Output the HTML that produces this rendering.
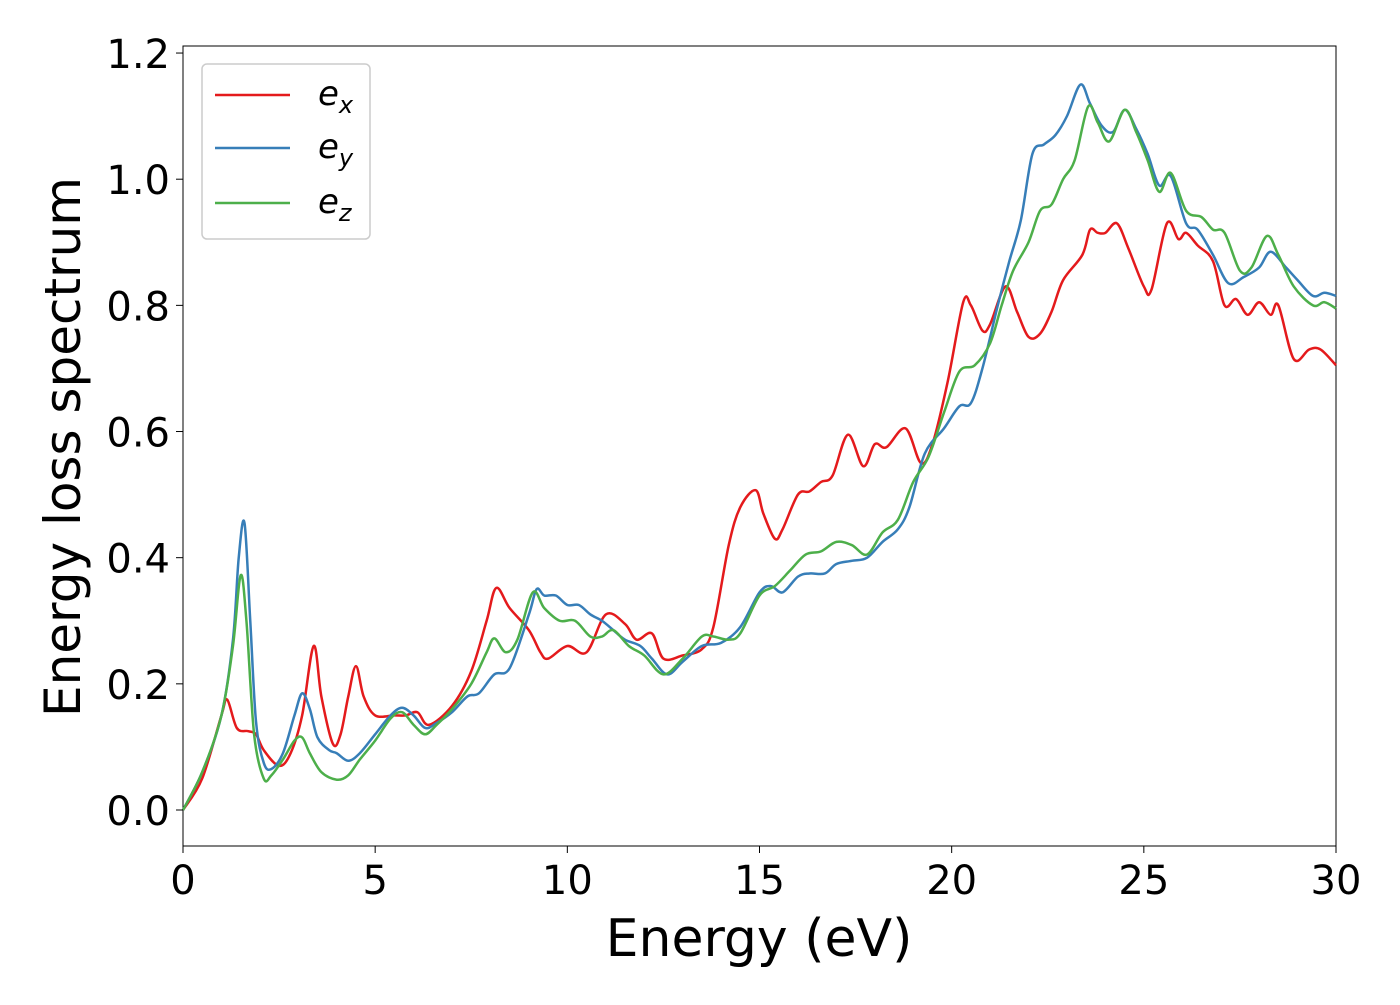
<!DOCTYPE html>
<html><head><meta charset="utf-8"><style>
body{margin:0;background:#fff}
svg text{font-family:"DejaVu Sans","Liberation Sans",sans-serif;fill:#000}
</style></head><body>
<svg id="chart" width="1400" height="1000" xmlns="http://www.w3.org/2000/svg">
<rect x="183" y="46" width="1153" height="800" fill="#fff" stroke="#000" stroke-width="1"/>
<g id="series"></g>
<g id="axes"></g>
<text x="759" y="956" font-size="52" text-anchor="middle">Energy (eV)</text>
<text transform="translate(80,447) rotate(-90)" font-size="50" text-anchor="middle">Energy loss spectrum</text>
<g>
<rect x="202" y="64" width="168" height="175" rx="5" fill="#fff" stroke="#ccc" stroke-width="1.5"/>
<g><line x1="215" y1="95" x2="290" y2="95" stroke="#e41a1c" stroke-width="2.5"/><text x="318" y="105" font-size="34" font-style="italic">e<tspan font-size="24" dy="8">x</tspan></text></g>
<g><line x1="215" y1="148" x2="290" y2="148" stroke="#377eb8" stroke-width="2.5"/><text x="318" y="158" font-size="34" font-style="italic">e<tspan font-size="24" dy="8">y</tspan></text></g>
<g><line x1="215" y1="203" x2="290" y2="203" stroke="#4daf4a" stroke-width="2.5"/><text x="318" y="213" font-size="34" font-style="italic">e<tspan font-size="24" dy="8">z</tspan></text></g>
</g>
</svg>
<script>
const xTicks=[0,5,10,15,20,25,30];
const yTicks=[0.0,0.2,0.4,0.6,0.8,1.0,1.2];
const exE=[0,0.5,1.0,1.15,1.4,1.7,1.9,2.1,2.5,2.8,3.1,3.4,3.6,3.9,4.1,4.3,4.5,4.7,5.0,5.5,5.8,6.1,6.4,7.0,7.5,7.9,8.15,8.5,9.0,9.3,9.5,10,10.5,11,11.5,11.8,12.2,12.5,13,13.5,13.8,14.2,14.5,14.9,15.1,15.4,15.6,16,16.3,16.6,16.9,17.3,17.7,18,18.3,18.8,19.2,19.5,19.9,20.3,20.5,20.8,21,21.4,21.7,22,22.3,22.6,22.9,23.4,23.6,23.8,24,24.3,24.6,25,25.2,25.6,25.9,26.1,26.4,26.8,27.1,27.4,27.7,28,28.3,28.5,28.9,29.3,29.6,30];
const exV=[0,0.05,0.15,0.175,0.13,0.125,0.12,0.095,0.07,0.09,0.15,0.26,0.18,0.105,0.12,0.18,0.228,0.18,0.15,0.15,0.15,0.155,0.135,0.165,0.22,0.3,0.352,0.32,0.285,0.25,0.24,0.26,0.25,0.31,0.295,0.27,0.28,0.24,0.245,0.255,0.29,0.42,0.48,0.507,0.47,0.43,0.445,0.5,0.505,0.52,0.53,0.595,0.545,0.58,0.575,0.605,0.55,0.58,0.68,0.805,0.8,0.76,0.77,0.83,0.79,0.75,0.755,0.79,0.84,0.88,0.92,0.915,0.915,0.93,0.89,0.83,0.825,0.93,0.905,0.915,0.895,0.87,0.8,0.81,0.785,0.805,0.785,0.8,0.715,0.73,0.73,0.705];
const eyE=[0,0.5,1.0,1.3,1.45,1.6,1.75,1.9,2.1,2.3,2.6,2.9,3.1,3.3,3.5,3.8,4.0,4.3,4.6,5.0,5.4,5.7,6.0,6.3,6.6,7.0,7.4,7.7,8.1,8.5,9.0,9.2,9.4,9.7,10,10.3,10.6,10.9,11.2,11.5,11.9,12.2,12.6,13,13.5,14,14.5,15,15.3,15.6,16.0,16.3,16.7,17.0,17.4,17.8,18.2,18.6,18.9,19.3,19.8,20.2,20.5,20.8,21.2,21.5,21.8,22.1,22.4,22.7,23,23.35,23.6,23.9,24.2,24.5,24.8,25.1,25.4,25.7,26.1,26.4,26.8,27.2,27.6,28.0,28.3,28.7,29.0,29.4,29.7,30];
const eyV=[0,0.06,0.15,0.27,0.4,0.455,0.3,0.14,0.075,0.065,0.09,0.15,0.185,0.16,0.115,0.095,0.09,0.078,0.09,0.12,0.15,0.162,0.15,0.13,0.138,0.155,0.18,0.185,0.215,0.225,0.31,0.35,0.34,0.34,0.325,0.325,0.31,0.3,0.285,0.27,0.26,0.24,0.215,0.235,0.26,0.265,0.29,0.345,0.355,0.345,0.37,0.375,0.375,0.39,0.395,0.4,0.425,0.445,0.48,0.565,0.605,0.64,0.645,0.7,0.8,0.87,0.935,1.04,1.055,1.07,1.1,1.15,1.12,1.085,1.075,1.11,1.08,1.04,0.99,1.005,0.93,0.92,0.88,0.835,0.845,0.86,0.885,0.86,0.84,0.815,0.82,0.815];
const ezE=[0,0.5,1.0,1.3,1.5,1.65,1.85,2.1,2.3,2.6,2.9,3.1,3.3,3.6,4.0,4.3,4.6,5.0,5.4,5.7,6.0,6.3,6.6,7.0,7.5,7.9,8.1,8.4,8.7,9.1,9.4,9.8,10.2,10.6,10.9,11.2,11.6,12,12.5,13,13.5,13.8,14.2,14.5,15,15.4,15.8,16.2,16.6,17.0,17.4,17.8,18.2,18.6,19,19.4,19.8,20.2,20.6,21.0,21.3,21.6,22,22.3,22.6,22.9,23.2,23.55,23.8,24.1,24.5,24.8,25.1,25.4,25.7,26.1,26.5,26.8,27.1,27.5,27.8,28.2,28.5,28.9,29.4,29.7,30];
const ezV=[0,0.06,0.15,0.26,0.372,0.3,0.12,0.05,0.055,0.08,0.11,0.115,0.09,0.06,0.048,0.055,0.08,0.11,0.145,0.155,0.135,0.12,0.135,0.16,0.2,0.25,0.272,0.25,0.27,0.345,0.32,0.3,0.3,0.275,0.275,0.285,0.26,0.245,0.215,0.24,0.275,0.275,0.27,0.28,0.34,0.355,0.38,0.405,0.41,0.425,0.42,0.405,0.44,0.46,0.52,0.56,0.63,0.695,0.705,0.74,0.8,0.855,0.9,0.95,0.96,1.0,1.03,1.115,1.09,1.06,1.11,1.075,1.03,0.98,1.01,0.95,0.94,0.92,0.915,0.855,0.86,0.91,0.88,0.83,0.8,0.805,0.795];
const NS="http://www.w3.org/2000/svg";
const xs=v=>183+v*(1153/30);
const ys=v=>810-v*630.8;
const series=document.getElementById('series');
function smooth(E,V){
  const p=E.map((e,i)=>[xs(e),ys(V[i])]);
  let d='M'+p[0][0]+','+p[0][1];
  for(let i=0;i<p.length-1;i++){
    const p0=p[i-1]||p[i],p1=p[i],p2=p[i+1],p3=p[i+2]||p2;
    const c1=[p1[0]+(p2[0]-p0[0])/6,p1[1]+(p2[1]-p0[1])/6];
    const c2=[p2[0]-(p3[0]-p1[0])/6,p2[1]-(p3[1]-p1[1])/6];
    d+=' C'+c1.join(',')+' '+c2.join(',')+' '+p2.join(',');
  }
  return d;
}
[[exE,exV,'#e41a1c','line-ex'],[eyE,eyV,'#377eb8','line-ey'],[ezE,ezV,'#4daf4a','line-ez']].forEach(s=>{
  const path=document.createElementNS(NS,'path');
  path.setAttribute('d',smooth(s[0],s[1]));
  path.setAttribute('fill','none');
  path.setAttribute('stroke',s[2]);
  path.setAttribute('stroke-width','2.5');
  
  
  series.appendChild(path);
});
const axes=document.getElementById('axes');
xTicks.forEach(t=>{
  const l=document.createElementNS(NS,'line');
  l.setAttribute('x1',xs(t));l.setAttribute('x2',xs(t));l.setAttribute('y1',846);l.setAttribute('y2',853);l.setAttribute('stroke','#000');
  
  
  axes.appendChild(l);
  const tx=document.createElementNS(NS,'text');
  tx.setAttribute('x',xs(t));tx.setAttribute('y',894);tx.setAttribute('font-size','40');tx.setAttribute('text-anchor','middle');
  tx.textContent=t;
  
  
  axes.appendChild(tx);
});
yTicks.forEach(t=>{
  const l=document.createElementNS(NS,'line');
  l.setAttribute('x1',176);l.setAttribute('x2',183);l.setAttribute('y1',ys(t));l.setAttribute('y2',ys(t));l.setAttribute('stroke','#000');
  
  
  axes.appendChild(l);
  const tx=document.createElementNS(NS,'text');
  tx.setAttribute('x',170);tx.setAttribute('y',ys(t)+15);tx.setAttribute('font-size','40');tx.setAttribute('text-anchor','end');
  tx.textContent=t.toFixed(1);
  
  
  axes.appendChild(tx);
});
</script>
</body></html>
